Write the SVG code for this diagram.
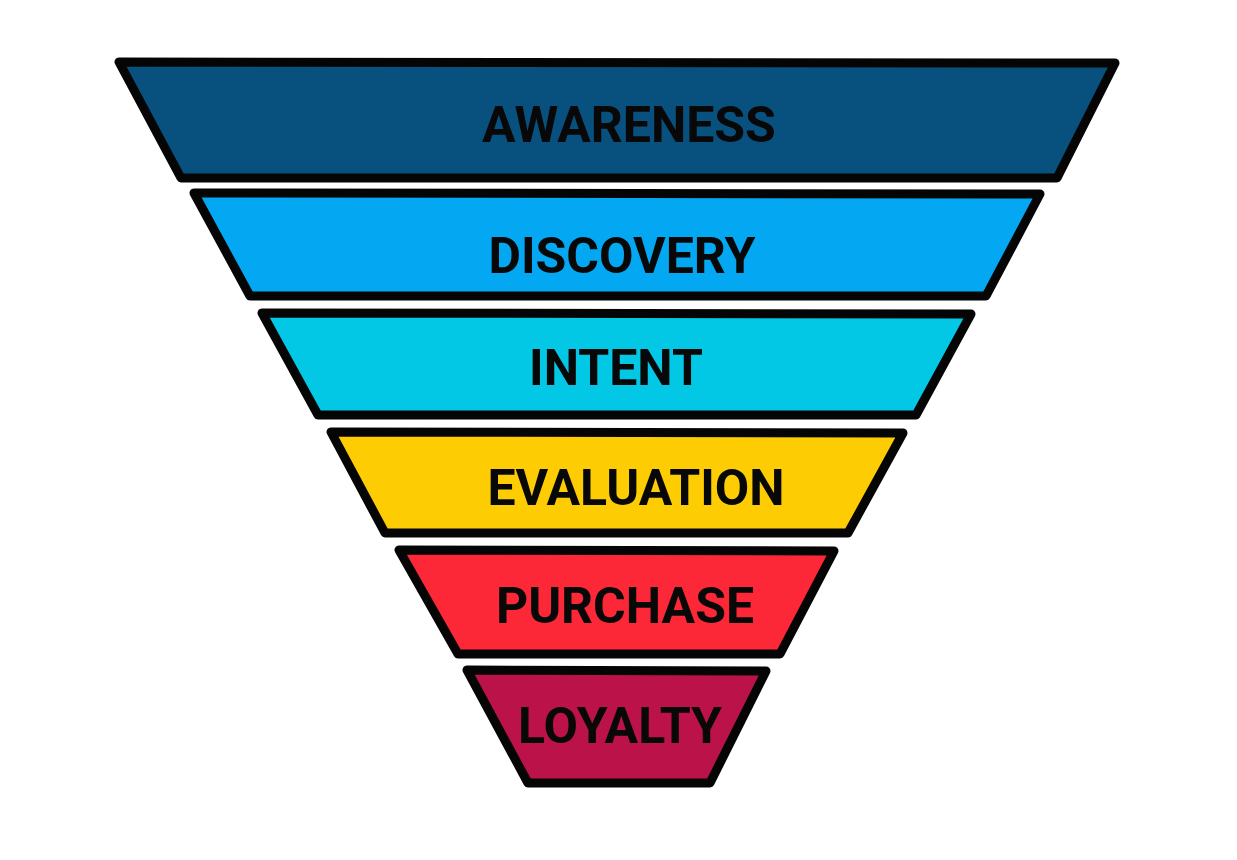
<svg xmlns="http://www.w3.org/2000/svg" width="1237" height="860" viewBox="0 0 1237 860">
<style>
.stage{stroke:#050505;stroke-width:9;stroke-linejoin:round}
.lbl{font-family:Roboto,"Liberation Sans",sans-serif;font-weight:bold;font-size:50px;fill:#080808;text-anchor:middle}
</style>
<rect width="1237" height="860" fill="#ffffff"/>
<g id="awareness">
<polygon class="stage" fill="#08507e" points="119,62 1115,63 1057,178 181,178"/>
<text class="lbl" x="629" y="142">AWARENESS</text>
</g>
<g id="discovery">
<polygon class="stage" fill="#04a8f2" points="194,193 1040,194 986,296 250,296"/>
<text class="lbl" x="622" y="273">DISCOVERY</text>
</g>
<g id="intent">
<polygon class="stage" fill="#02c8e6" points="262,313 971,314 916,415 318,415"/>
<text class="lbl" x="616" y="385">INTENT</text>
</g>
<g id="evaluation">
<polygon class="stage" fill="#fecc02" points="331,432 903,433 848,533 385,533"/>
<text class="lbl" x="636" y="505">EVALUATION</text>
</g>
<g id="purchase">
<polygon class="stage" fill="#fd2837" points="399,550 834,551 780,654 458,654"/>
<text class="lbl" x="625" y="623">PURCHASE</text>
</g>
<g id="loyalty">
<polygon class="stage" fill="#bb1249" points="467,670 766,671 710,783 528,783"/>
<text class="lbl" x="620" y="743">LOYALTY</text>
</g>
<g id="connectors"></g>
</svg>
